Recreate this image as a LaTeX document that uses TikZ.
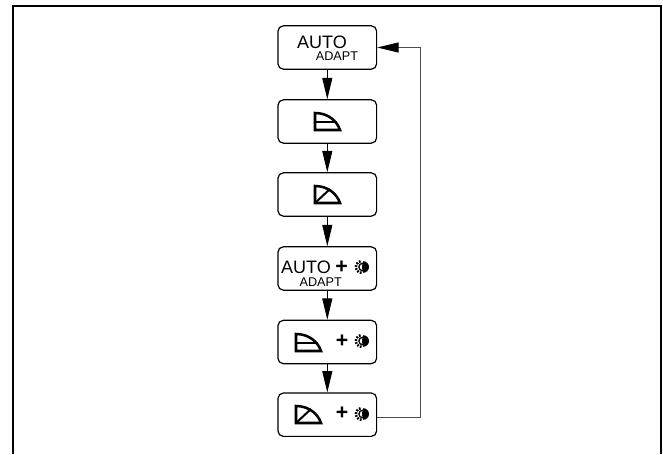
\documentclass[tikz,border=0pt]{standalone}
\usepackage{fontspec}
\setmainfont{Liberation Sans}
\usetikzlibrary{arrows.meta}
\tikzset{
	modenode/.style={
			rectangle,
			draw=black,
			line width=0.9pt,
			rounded corners=4pt,
			fill=white,
			minimum width=74pt,
			minimum height=32.5pt,
			inner sep=0pt
		},
	bigtext/.style={
			inner sep=0pt,
			font=\fontsize{13.5}{13.5}\selectfont
		},
	smalltext/.style={
			inner sep=0pt,
			font=\fontsize{9.5}{9.5}\selectfont
		},
	plustext/.style={
			inner sep=0pt,
			font=\fontsize{16}{16}\selectfont\bfseries
		},
	flowline/.style={
			-{Triangle[length=16pt,width=7.5pt]},
			line width=0.7pt,
			black
		},
	backline/.style={
			-{Triangle[length=16pt,width=7.5pt,black]},
			line width=0.6pt,
			draw=black!70
		},
	lowbeam/.pic={
			\draw[line width=1.9pt, line join=miter] (0,0) -- (0,-17) .. controls (13,-17) and (22,-9) .. (25,0) -- cycle;
			\draw[line width=1.5pt] (0,-8.5) -- (21.5,-8.5);
		},
	highbeam/.pic={
			\draw[line width=1.9pt, line join=miter] (0,0) -- (0,-17) .. controls (13,-17) and (22,-9) .. (25,0) -- cycle;
			\draw[line width=1.5pt] (0,0) -- (15,-14);
		},
	sunicon/.pic={
			\fill (1.5,-5.8) arc[start angle=-90, end angle=90, radius=5.8] .. controls (0,2.5) and (0,-2.5) .. (1.5,-5.8);
			\draw[line width=1pt] (1,-3.8) arc[start angle=-90, end angle=-270, radius=3.8];
			\foreach \a in {100,130,160,190,220,250}
				\draw[line width=1.3pt] (\a:4.5) -- (\a:7);
		}
}

\begin{document}
\begin{tikzpicture}[x=0.75pt,y=-0.75pt]
\useasboundingbox (0,0) rectangle (663,454);
\draw[line width=1.2pt, line join=miter] (13,454) -- (13,6) -- (661,6) -- (661,454);

\node[modenode] (tAuto) at (327.3,47.5) {};
\node[modenode] (tLow) at (327.3,121.5) {};
\node[modenode] (tHigh) at (327.3,194.5) {};
\node[modenode] (tAutoSun) at (327.3,268.5) {};
\node[modenode] (tLowSun) at (327.3,342) {};
\node[modenode] (tHighSun) at (327.3,414.7) {};
\coordinate (tCorner) at (420,47.5);

\draw[flowline] (tAuto) -- (tLow);
\draw[flowline] (tLow) -- (tHigh);
\draw[flowline] (tHigh) -- (tAutoSun);
\draw[flowline] (tAutoSun) -- (tLowSun);
\draw[flowline] (tLowSun) -- (tHighSun);
\draw[backline] (tHighSun.-3) -| (tCorner) -- (tAuto);

\node[bigtext] (tAutoA) at (322,42.8) {AUTO};
\node[smalltext] (tAdaptA) at (337,56) {ADAPT};
\node[bigtext] (tAutoB) at (306,267.5) {AUTO};
\node[smalltext] (tAdaptB) at (320.7,282) {ADAPT};

\node[plustext] (tPlusA) at (341.5,267) {+};
\node[plustext] (tPlusB) at (342.2,341) {+};
\node[plustext] (tPlusC) at (342.2,413) {+};

\pic at (315,130) {lowbeam};
\pic at (315,203) {highbeam};
\pic at (296,351) {lowbeam};
\pic at (296,423) {highbeam};

\pic at (361.7,267) {sunicon};
\pic at (361.7,341) {sunicon};
\pic at (361.7,414) {sunicon};

\end{tikzpicture}
\end{document}
